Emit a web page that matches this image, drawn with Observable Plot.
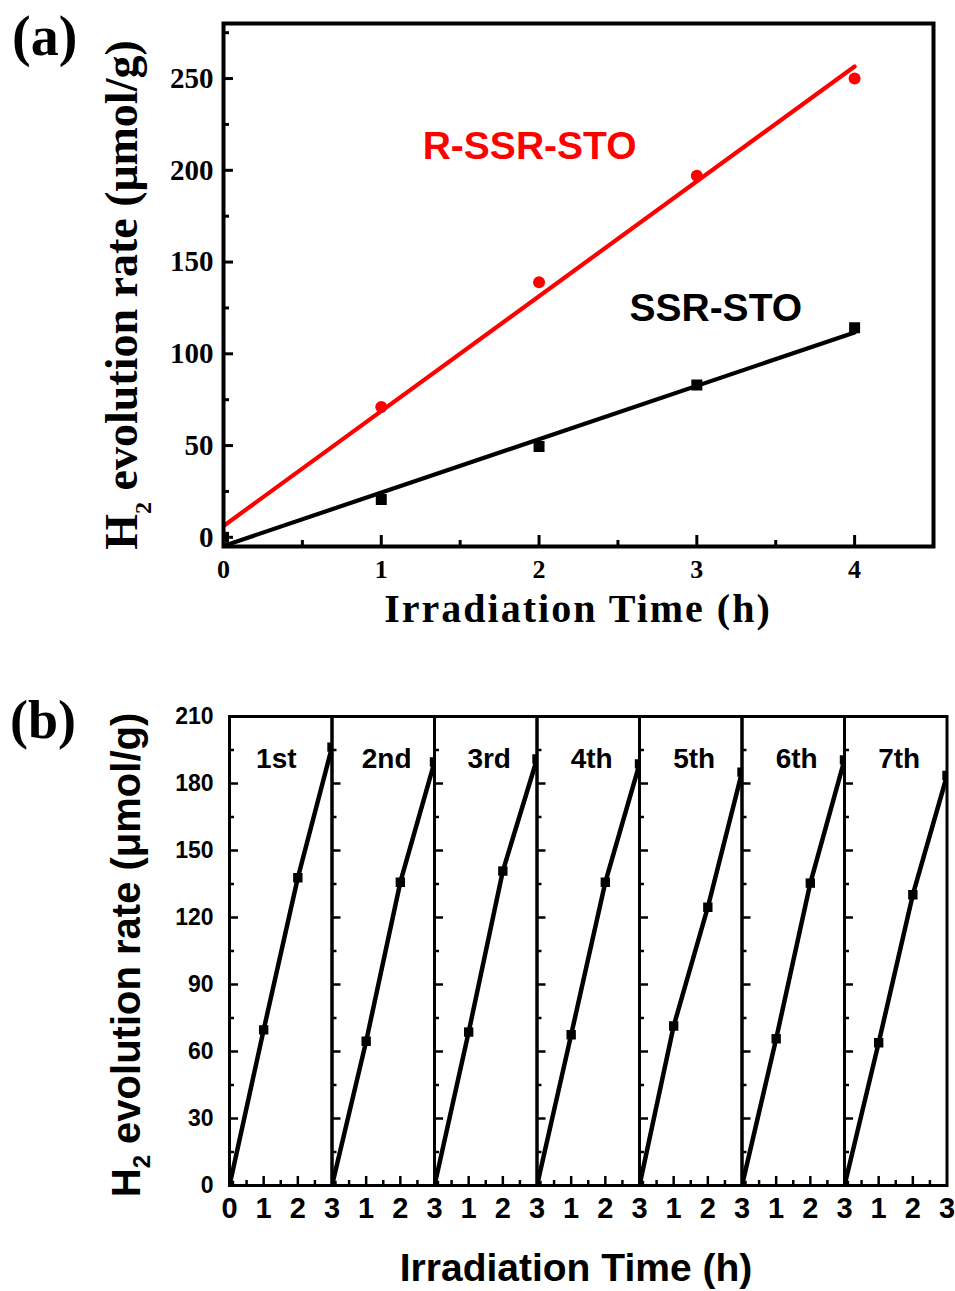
<!DOCTYPE html>
<html><head><meta charset="utf-8">
<script src="https://cdn.jsdelivr.net/npm/d3@7"></script>
<script src="https://cdn.jsdelivr.net/npm/@observablehq/plot@0.6"></script>
<style>
body{margin:0;background:#fff;}
svg{display:block;}
</style></head><body>
<script>
// ---------- data, panel (a) ----------
const timeA = [0, 1, 2, 3, 4];
const rssrSto = [0, 71, 139, 197, 250];
const ssrSto = [0, 20.6, 49.5, 83, 114.2];
const yTicksA = [0, 50, 100, 150, 200, 250];
const yMinorA = [25, 75, 125, 175, 225, 275];
const xTicksA = [0, 1, 2, 3, 4];
const xMinorA = [0.5, 1.5, 2.5, 3.5];
// ---------- data, panel (b) ----------
const cycles = ["1st", "2nd", "3rd", "4th", "5th", "6th", "7th"];
const timeB = [0, 1, 2, 3];
const cycle1 = [0, 69.7, 137.8, 196.3];
const cycle2 = [0, 64.6, 135.8, 189.6];
const cycle3 = [0, 68.7, 140.8, 191.0];
const cycle4 = [0, 67.5, 135.8, 188.8];
const cycle5 = [0, 71.4, 124.6, 185.1];
const cycle6 = [0, 65.7, 135.4, 190.6];
const cycle7 = [0, 63.9, 130.2, 183.6];
const yTicksB = [0, 30, 60, 90, 120, 150, 180, 210];
const yMinorB = [15, 45, 75, 105, 135, 165, 195];
const xTicksB = [1, 2];
const xMinorB = [0.5, 1.5, 2.5];
const xLabelsFirst = [0, 1, 2, 3];
const xLabelsOther = [1, 2, 3];

const serif = "'Liberation Serif','Times New Roman',Times,serif";
const sans = "'Liberation Sans',Arial,Helvetica,sans-serif";
const fmt = d => String(d);

// ---------- panel (a) ----------
const WA = 955, HA = 655, mlA = 223, mrA = 22, mtA = 23, mbA = 109;
const fwA = WA - mlA - mrA, fhA = HA - mtA - mbA;
const redData = timeA.map((t, i) => ({t, v: rssrSto[i]}));
const blackData = timeA.map((t, i) => ({t, v: ssrSto[i]}));
const RED = "#ff0000";

const plotA = Plot.plot({
  width: WA, height: HA,
  marginLeft: mlA, marginRight: mrA, marginTop: mtA, marginBottom: mbA,
  style: {fontFamily: serif, background: "white", overflow: "visible"},
  x: {domain: [0, 4.5], axis: null},
  y: {domain: [-5, 280], axis: null},
  marks: [
    Plot.tickY(yTicksA, {y: d => d, insetRight: fwA - 10, strokeWidth: 3}),
    Plot.tickY(yMinorA, {y: d => d, insetRight: fwA - 6, strokeWidth: 3}),
    Plot.tickX(xTicksA, {x: d => d, insetTop: fhA - 11, strokeWidth: 3}),
    Plot.tickX(xMinorA, {x: d => d, insetTop: fhA - 6, strokeWidth: 3}),
    Plot.axisY({ticks: yTicksA, tickFormat: fmt, label: null, tickSize: 0, tickPadding: 10, fontSize: 29, fontWeight: "bold", fontFamily: serif, fill: "black"}),
    Plot.axisX({ticks: xTicksA, tickFormat: fmt, label: null, tickSize: 0, tickPadding: 13, fontSize: 26, fontWeight: "bold", fontFamily: serif, fill: "black"}),
    Plot.linearRegressionY(redData, {x: "t", y: "v", ci: 0, stroke: RED, strokeWidth: 4.2, clip: true}),
    Plot.linearRegressionY(blackData, {x: "t", y: "v", ci: 0, stroke: "black", strokeWidth: 4.2, clip: true}),
    Plot.dot(redData, {x: "t", y: "v", symbol: "circle", fill: RED, r: 6, clip: true}),
    Plot.dot(blackData, {x: "t", y: "v", symbol: "square", fill: "black", r: 6.2, clip: true}),
    Plot.text(["R-SSR-STO"], {x: () => 1.94, y: () => 213, text: d => d, fill: RED, fontSize: 39, fontWeight: "bold", fontFamily: sans}),
    Plot.text(["SSR-STO"], {x: () => 3.12, y: () => 124.7, text: d => d, fill: "black", fontSize: 39, fontWeight: "bold", fontFamily: sans}),
    Plot.frame({strokeWidth: 4})
  ]
});
document.body.appendChild(plotA);

const sA = d3.select(plotA);
sA.append("text").attr("x", 12).attr("y", 55).attr("text-anchor", "start")
  .attr("font-family", serif).attr("font-weight", "bold").attr("font-size", 56).text("(a)");
{
  const t = sA.append("text").attr("transform", "translate(137,295) rotate(-90)")
    .attr("text-anchor", "middle").attr("font-family", serif).attr("font-weight", "bold").attr("font-size", 46);
  t.append("tspan").text("H");
  t.append("tspan").attr("font-size", 24).attr("dy", 14).text("2");
  t.append("tspan").attr("dy", -14).text(" evolution rate (\u03bcmol/g)");
}
sA.append("text").attr("x", 578).attr("y", 622).attr("text-anchor", "middle")
  .attr("letter-spacing", 2)
  .attr("font-family", serif).attr("font-weight", "bold").attr("font-size", 40).text("Irradiation Time (h)");

// ---------- panel (b) ----------
const WB = 955, HB = 636, mlB = 229, mrB = 8.5, mtB = 61, mbB = 106;
const facetW = (WB - mlB - mrB) / cycles.length, fhB = HB - mtB - mbB;
const cycleValues = [cycle1, cycle2, cycle3, cycle4, cycle5, cycle6, cycle7];
const dataB = cycles.flatMap((c, i) => timeB.map((t, j) => ({cycle: c, t, v: cycleValues[i][j]})));
const xLabelData = cycles.flatMap((c, i) => (i === 0 ? xLabelsFirst : xLabelsOther).map(t => ({cycle: c, t})));

const plotB = Plot.plot({
  width: WB, height: HB,
  marginLeft: mlB, marginRight: mrB, marginTop: mtB, marginBottom: mbB,
  style: {fontFamily: sans, background: "white", overflow: "visible"},
  fx: {domain: cycles, padding: 0, axis: null, round: false},
  x: {domain: [0, 3], axis: null},
  y: {domain: [0, 210], axis: null},
  marks: [
    Plot.tickY(yTicksB, {y: d => d, insetRight: facetW - 9, strokeWidth: 2.5}),
    Plot.tickY(yMinorB, {y: d => d, insetRight: facetW - 5, strokeWidth: 2.5}),
    Plot.tickX(xTicksB, {x: d => d, insetTop: fhB - 9, strokeWidth: 2.5}),
    Plot.tickX(xMinorB, {x: d => d, insetTop: fhB - 5, strokeWidth: 2.5}),
    Plot.axisY({ticks: yTicksB, tickFormat: fmt, label: null, tickSize: 0, tickPadding: 16, fontSize: 23, fontWeight: "bold", fontFamily: sans, fill: "black"}),
    Plot.text(xLabelData, {fx: "cycle", x: "t", text: d => String(d.t), frameAnchor: "bottom", lineAnchor: "top", dy: 12, fontSize: 29, fontWeight: "bold", fontFamily: sans, fill: "black"}),
    Plot.line(dataB, {fx: "cycle", x: "t", y: "v", stroke: "black", strokeWidth: 4.5, clip: true}),
    Plot.dot(dataB, {fx: "cycle", x: "t", y: "v", symbol: "square", fill: "black", r: 5.3, clip: true}),
    Plot.text(cycles, {fx: d => d, x: d => (d === "1st" ? 1.37 : 1.6), y: () => 191, text: d => d, fontSize: 28, fontWeight: "bold", fontFamily: sans, fill: "black"}),
    Plot.frame({strokeWidth: 3})
  ]
});
document.body.appendChild(plotB);

const sB = d3.select(plotB);
sB.append("text").attr("x", 10).attr("y", 83).attr("text-anchor", "start")
  .attr("font-family", serif).attr("font-weight", "bold").attr("font-size", 54).text("(b)");
{
  const t = sB.append("text").attr("transform", "translate(140,300) rotate(-90)")
    .attr("text-anchor", "middle").attr("font-family", sans).attr("font-weight", "bold").attr("font-size", 40);
  t.append("tspan").text("H");
  t.append("tspan").attr("font-size", 24).attr("dy", 10).text("2");
  t.append("tspan").attr("dy", -10).text(" evolution rate (\u03bcmol/g)");
}
sB.append("text").attr("x", 576).attr("y", 626).attr("text-anchor", "middle")
  .attr("font-family", sans).attr("font-weight", "bold").attr("font-size", 39).text("Irradiation Time (h)");
</script>
</body></html>
